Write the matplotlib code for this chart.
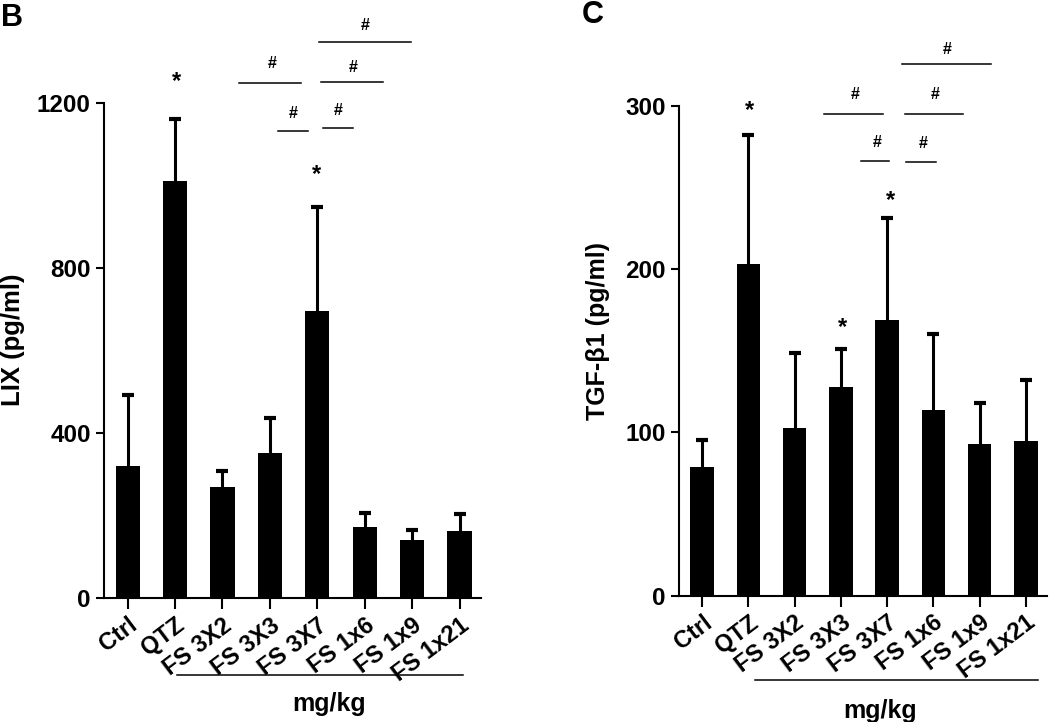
import matplotlib
matplotlib.use("Agg")
import matplotlib.pyplot as plt
import matplotlib.transforms as mtransforms
import numpy as np

plt.rcParams['font.family'] = ['Liberation Sans', 'DejaVu Sans']
plt.rcParams['font.weight'] = 'bold'

groups = ["Ctrl", "QTZ", "FS 3X2", "FS 3X3", "FS 3X7", "FS 1x6", "FS 1x9", "FS 1x21"]

# LIX (pg/ml), mean and upper SD
lix_mean = [320, 1010, 269, 353, 696, 172, 140, 163]
lix_err = [172, 150, 39, 84, 252, 35, 25, 41]

# TGF-b1 (pg/ml), mean and upper SD
tgf_mean = [79, 203, 102.5, 127.5, 169, 114, 93, 95]
tgf_err = [16.5, 79, 46, 23.5, 62.5, 46.5, 25, 37]

# significance marks: (x0, x1, y_line, y_text, text x)
lix_brackets = [(2.35, 3.65, 1248, 1294, 3.04),
                (4.03, 5.97, 1347, 1386, 5.02),
                (4.08, 5.38, 1250, 1284, 4.75),
                (3.17, 3.80, 1132, 1173, 3.50),
                (4.12, 4.75, 1139, 1180, 4.45)]
lix_stars = [(1.02, 1252), (3.99, 1027)]

tgf_brackets = [(4.33, 6.24, 325.4, 334.6, 5.29),
                (2.63, 3.91, 295.2, 306.6, 3.30),
                (4.38, 5.65, 294.8, 306.6, 5.05),
                (3.43, 4.05, 266.0, 277.4, 3.79),
                (4.41, 5.05, 265.6, 277.0, 4.77)]
tgf_stars = [(1.02, 297), (4.07, 242), (3.04, 164.5)]


def panel(ax, means, errs, ymax, yticks, brackets, stars, line_y, mg_y, line_x, mg_x):
    x = np.arange(len(groups))
    ax.bar(x, means, width=0.51, color='black')
    _, caps, _ = ax.errorbar(x, means, yerr=[np.zeros(len(errs)), errs], fmt='none',
                             ecolor='black', elinewidth=2.2, capsize=4, capthick=3)
    caps[0].set_visible(False)
    ax.set_xlim(-0.5, 7.45)
    ax.set_ylim(0, ymax)
    ax.set_yticks(yticks)
    ax.set_xticks(x)
    ax.set_xticklabels(groups, rotation=37, ha='right', va='top',
                       rotation_mode='anchor', fontsize=17, fontweight='bold')
    shift = mtransforms.ScaledTranslation(4 / 72, 0, ax.figure.dpi_scale_trans)
    for lab in ax.get_xticklabels():
        lab.set_transform(lab.get_transform() + shift)
    ax.tick_params(axis='y', labelsize=17.5, width=1.5, length=6)
    ax.tick_params(axis='x', width=1.5, length=8, pad=3)
    for s in ['top', 'right']:
        ax.spines[s].set_visible(False)
    for s in ['left', 'bottom']:
        ax.spines[s].set_linewidth(1.5)
    for x0, x1, yl, yt, xt in brackets:
        ax.plot([x0, x1], [yl, yl], color='black', lw=1.1, clip_on=False)
        ax.text(xt, yt, '#', ha='center', va='center', fontsize=11.5, clip_on=False)
    for xs, ys in stars:
        ax.text(xs, ys, '*', ha='center', va='center', fontsize=17, clip_on=False)
    trans = ax.get_xaxis_transform()
    ax.plot(line_x, [line_y, line_y], color='black', lw=1.1, transform=trans, clip_on=False)
    ax.text(mg_x, mg_y, 'mg/kg', transform=trans, ha='center', va='center', fontsize=18)


fig = plt.figure(figsize=(10.5, 7.22), dpi=100)
ax1 = fig.add_axes([0.0990, 0.1713, 0.3590, 0.6865])
ax2 = fig.add_axes([0.6467, 0.1749, 0.3501, 0.6787])

panel(ax1, lix_mean, lix_err, 1200, [0, 400, 800, 1200], lix_brackets, lix_stars,
      -0.155, -0.213, [1.04, 7.07], 4.25)
panel(ax2, tgf_mean, tgf_err, 300, [0, 100, 200, 300], tgf_brackets, tgf_stars,
      -0.171, -0.235, [1.15, 7.26], 3.85)

fig.text(13 / 1050, 1 - 340 / 722, 'LIX (pg/ml)', rotation=90, ha='center', va='center', fontsize=18.5)
fig.text(598 / 1050, 1 - 331 / 722, 'TGF-β1 (pg/ml)', rotation=90, ha='center', va='center', fontsize=18)
fig.text(12 / 1050, 1 - 18 / 722, 'B', ha='center', va='center', fontsize=22)
fig.text(593 / 1050, 1 - 15 / 722, 'C', ha='center', va='center', fontsize=22)

fig.savefig('out.png', dpi=100)
